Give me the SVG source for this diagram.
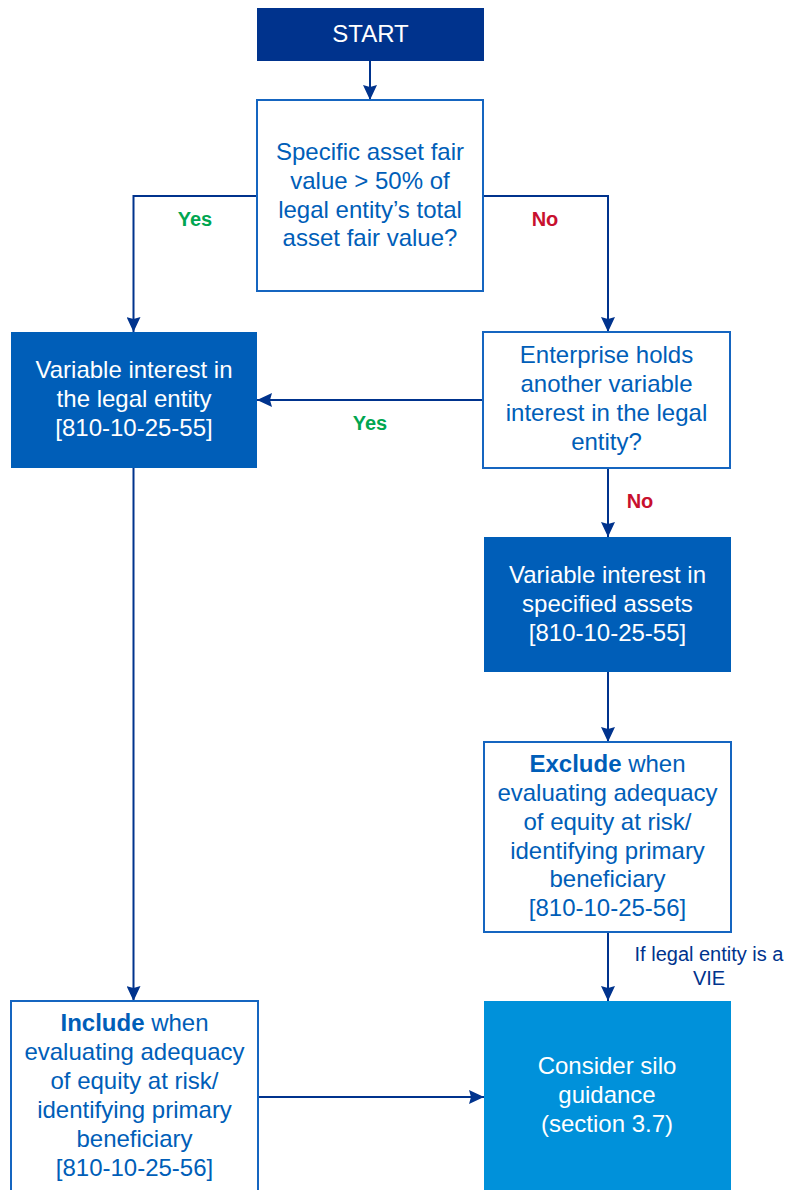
<svg xmlns="http://www.w3.org/2000/svg" width="786" height="1190" viewBox="0 0 786 1190">
<defs>
<marker id="ah" markerUnits="userSpaceOnUse" markerWidth="15" markerHeight="14" refX="15" refY="7" orient="auto">
<path d="M0,0 L15,7 L0,14 L2,7 z" fill="#00338D"/>
</marker>
<style>
text{font-family:"Liberation Sans",Arial,sans-serif;text-anchor:middle}
.t{font-size:24px}
.w{fill:#ffffff}
.b{fill:#005EB8}
.box{fill:#ffffff;stroke:#1565C0;stroke-width:2}
.dark{fill:#00338D}
.mid{fill:#005EB8}
.light{fill:#0091DA}
.c{fill:none;stroke:#00338D;stroke-width:2}
.ca{fill:none;stroke:#00338D;stroke-width:2;marker-end:url(#ah)}
.lbl{font-size:20px;font-weight:bold}
.yes{fill:#00A651}
.no{fill:#C8102E}
.note{font-size:20px;fill:#00338D}
.bold{font-weight:bold}
</style>
</defs>
<rect width="786" height="1190" fill="#ffffff"/>

<g id="connectors">
<path class="ca" d="M370,61 L370,100"/>
<path class="ca" d="M257,196 L133.5,196 L133.5,332"/>
<path class="ca" d="M483,196 L608,196 L608,332"/>
<path class="ca" d="M483,400 L257,400"/>
<path class="ca" d="M608,468 L608,537"/>
<path class="ca" d="M608,672 L608,742"/>
<path class="ca" d="M608,932 L608,1001"/>
<path class="ca" d="M133.5,468 L133.5,1001"/>
<path class="ca" d="M258,1097 L484,1097"/>
<text class="lbl yes" x="195" y="226">Yes</text>
<text class="lbl no" x="545" y="226">No</text>
<text class="lbl yes" x="370" y="430">Yes</text>
<text class="lbl no" x="640" y="508">No</text>
<text class="note" x="709" y="961">If legal entity is a</text>
<text class="note" x="709" y="985">VIE</text>
</g>

<g id="start">
<rect class="dark" x="257" y="8" width="227" height="53"/>
<text class="t w" x="370.5" y="42">START</text>
</g>

<g id="decision1">
<rect class="box" x="257" y="100" width="226" height="191"/>
<text class="t b" x="370" y="160">Specific asset fair</text>
<text class="t b" x="370" y="189">value &gt; 50% of</text>
<text class="t b" x="370" y="218">legal entity’s total</text>
<text class="t b" x="370" y="246">asset fair value?</text>
</g>

<g id="vi-legal-entity">
<rect class="mid" x="11" y="332" width="246" height="136"/>
<text class="t w" x="134" y="378">Variable interest in</text>
<text class="t w" x="134" y="407">the legal entity</text>
<text class="t w" x="134" y="436">[810-10-25-55]</text>
</g>

<g id="decision2">
<rect class="box" x="483" y="332" width="247" height="136"/>
<text class="t b" x="606.5" y="363">Enterprise holds</text>
<text class="t b" x="606.5" y="392">another variable</text>
<text class="t b" x="606.5" y="421">interest in the legal</text>
<text class="t b" x="606.5" y="450">entity?</text>
</g>

<g id="vi-specified-assets">
<rect class="mid" x="484" y="537" width="247" height="135"/>
<text class="t w" x="607.5" y="583">Variable interest in</text>
<text class="t w" x="607.5" y="612">specified assets</text>
<text class="t w" x="607.5" y="641">[810-10-25-55]</text>
</g>

<g id="exclude">
<rect class="box" x="484" y="742" width="247" height="190"/>
<text class="t b" x="607.5" y="772"><tspan class="bold">Exclude</tspan> when</text>
<text class="t b" x="607.5" y="801">evaluating adequacy</text>
<text class="t b" x="607.5" y="830">of equity at risk/</text>
<text class="t b" x="607.5" y="859">identifying primary</text>
<text class="t b" x="607.5" y="887">beneficiary</text>
<text class="t b" x="607.5" y="916">[810-10-25-56]</text>
</g>

<g id="include">
<rect class="box" x="11" y="1001" width="247" height="200"/>
<text class="t b" x="134.5" y="1031"><tspan class="bold">Include</tspan> when</text>
<text class="t b" x="134.5" y="1060">evaluating adequacy</text>
<text class="t b" x="134.5" y="1089">of equity at risk/</text>
<text class="t b" x="134.5" y="1118">identifying primary</text>
<text class="t b" x="134.5" y="1147">beneficiary</text>
<text class="t b" x="134.5" y="1176">[810-10-25-56]</text>
</g>

<g id="silo">
<rect class="light" x="484" y="1001" width="247" height="200"/>
<text class="t w" x="607" y="1074">Consider silo</text>
<text class="t w" x="607" y="1103">guidance</text>
<text class="t w" x="607" y="1132">(section 3.7)</text>
</g>
</svg>
